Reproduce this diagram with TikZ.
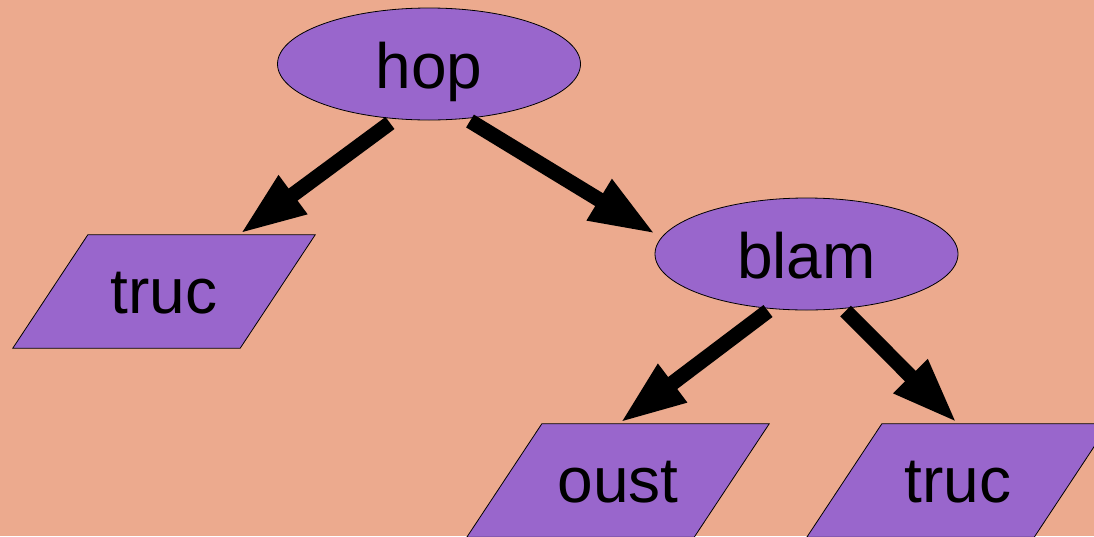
\documentclass[tikz,border=0pt]{standalone}
\usepackage{fontspec}
\setmainfont{Liberation Sans}
\usetikzlibrary{arrows.meta,calc,shapes.geometric}
\definecolor{paper}{HTML}{ECAA8E}
\definecolor{violet}{HTML}{9966CC}
\tikzset{
  bigfont/.style={font=\fontsize{64}{64}\selectfont},
  oval/.style={ellipse, draw=black, line width=0.8pt, fill=violet, inner sep=0pt,
    minimum width=303pt, minimum height=112pt, bigfont, text height=48pt, text depth=0pt},
  slantbox/.style={rectangle, inner sep=0pt, minimum width=302pt, minimum height=113pt,
    bigfont, text height=43pt, text depth=0pt},
  link/.style={line width=15pt, line cap=butt,
    -{Triangle[length=66pt, width=44pt]}},
}
% draws the parallelogram inscribed in a slantbox node
\newcommand{\slantshape}[1]{%
  \fill[violet, draw=black, line width=0.8pt]
    ($(#1.north west)+(75,0)$) -- (#1.north east) --
    ($(#1.south east)-(75,0)$) -- (#1.south west) -- cycle;}
\begin{document}
\begin{tikzpicture}[x=1pt, y=-1pt]
  \useasboundingbox (0,0) rectangle (1094,536);
  \fill[paper] (0,0) rectangle (1094,536);

  % leaves: boxes first, then their parallelograms, then the text on top
  \node[slantbox] (t1) at (164,291.5) {};
  \node[slantbox] (ou) at (618,480.5) {};
  \node[slantbox] (t2) at (958,480.5) {};
  \slantshape{t1}
  \slantshape{ou}
  \slantshape{t2}
  \node[slantbox] at (t1) {truc};
  \node[slantbox] at (ou) {oust};
  \node[slantbox] at (t2) {truc};

  % inner nodes
  \node[oval] (hop) at (429,64) {hop};
  \node[oval] (blam) at (806.5,254) {blam};

  % connectors
  \draw[link] ($(hop.center)+(-39,59)$) -- ($(t1.north)+(76,-1)$);
  \draw[link] ($(hop.center)+(41,57)$) -- ($(blam.center)+(-151,-20)$);
  \draw[link] ($(blam.center)+(-38.5,57)$) -- ($(ou.north)+(2,-1)$);
  \draw[link] ($(blam.center)+(39,57)$) -- ($(t2.north)+(-1,-1)$);
\end{tikzpicture}
\end{document}
